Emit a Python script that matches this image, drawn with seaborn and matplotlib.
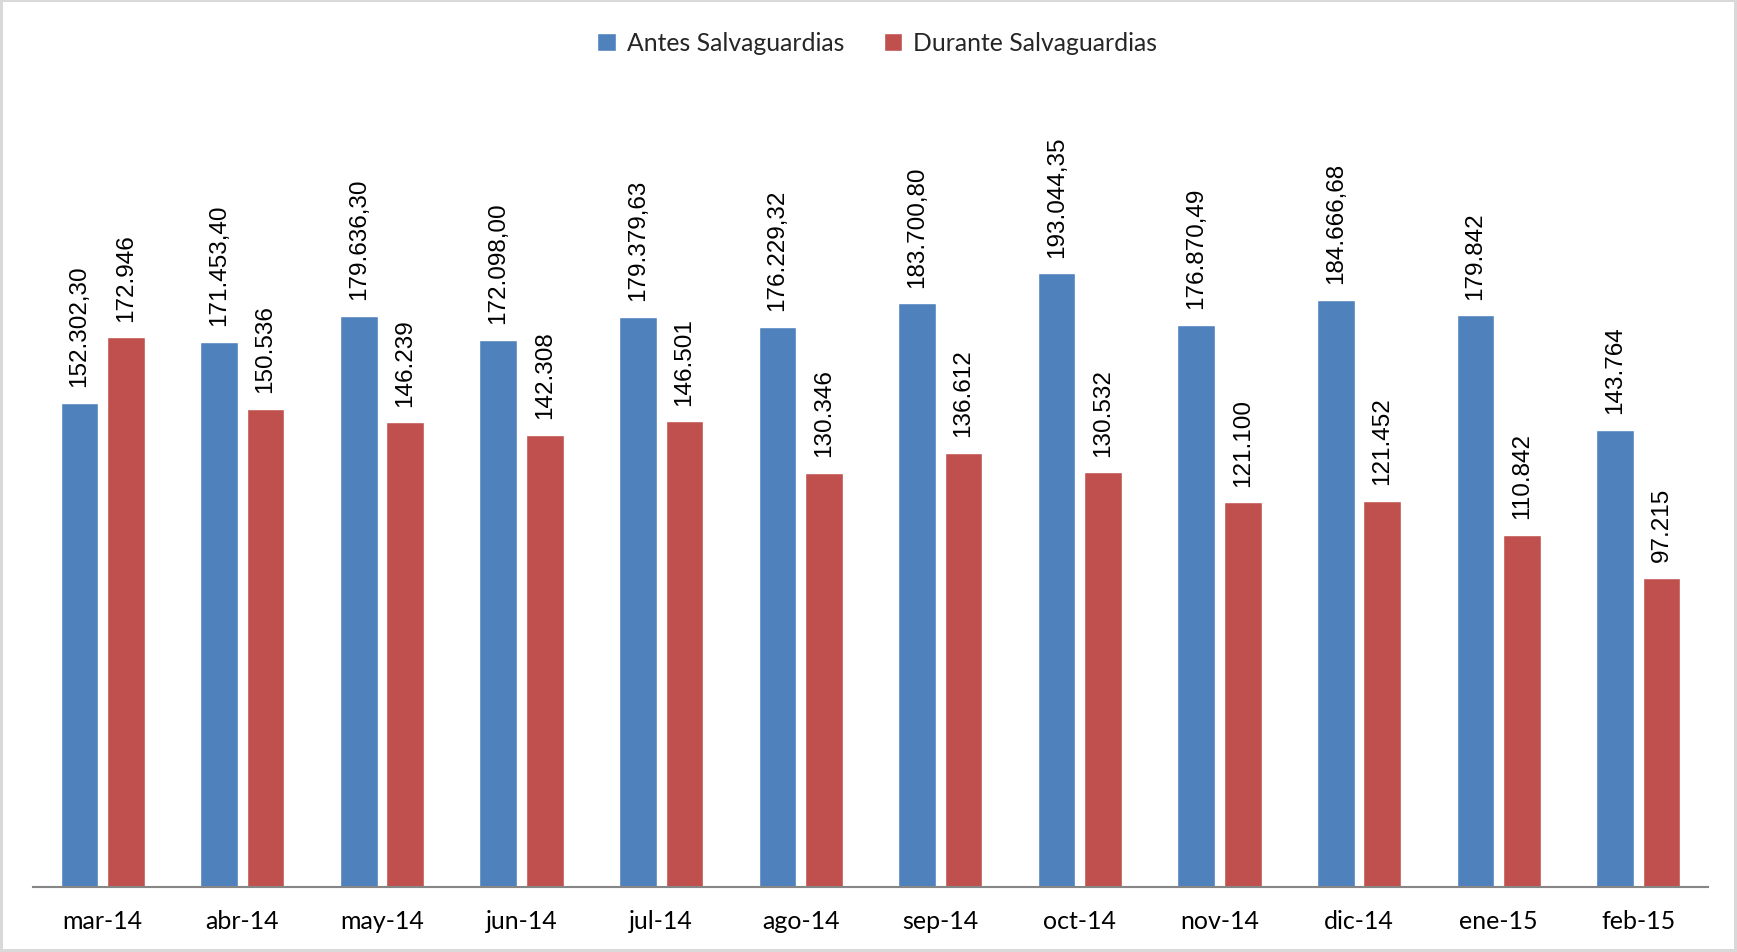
import matplotlib
matplotlib.use("Agg")
import matplotlib.pyplot as plt
import seaborn as sns
import pandas as pd

months = ["mar-14", "abr-14", "may-14", "jun-14", "jul-14", "ago-14",
          "sep-14", "oct-14", "nov-14", "dic-14", "ene-15", "feb-15"]
antes = [152302.30, 171453.40, 179636.30, 172098.00, 179379.63, 176229.32,
         183700.80, 193044.35, 176870.49, 184666.68, 179842, 143764]
antes_labels = ["152.302,30", "171.453,40", "179.636,30", "172.098,00", "179.379,63",
                "176.229,32", "183.700,80", "193.044,35", "176.870,49", "184.666,68",
                "179.842", "143.764"]
durante = [172946, 150536, 146239, 142308, 146501, 130346,
           136612, 130532, 121100, 121452, 110842, 97215]
durante_labels = ["172.946", "150.536", "146.239", "142.308", "146.501", "130.346",
                  "136.612", "130.532", "121.100", "121.452", "110.842", "97.215"]
series = ["Antes Salvaguardias", "Durante Salvaguardias"]

df = pd.DataFrame({
    "mes": months * 2,
    "valor": antes + durante,
    "serie": [series[0]] * len(months) + [series[1]] * len(months),
})

sns.set_theme(style="white")
plt.rcParams["font.family"] = ["Lato", "DejaVu Sans"]

fig = plt.figure(figsize=(17.37, 9.53), dpi=100, facecolor="white",
                 edgecolor="#D9D9D9", linewidth=3)
ax = fig.add_axes([0.019, 0.068, 0.9643, 0.8323])

sns.barplot(data=df, x="mes", y="valor", hue="serie", order=months,
            hue_order=series, palette=["#4F81BD", "#C0504D"],
            width=0.666, gap=0.19, ax=ax, saturation=1, legend=True)

ax.set_ylim(0, 249500)
ax.set_xlim(-0.5, len(months) - 0.5)
ax.set_xlabel("")
ax.set_ylabel("")
ax.set_yticks([])
for s in ["left", "right", "top"]:
    ax.spines[s].set_visible(False)
ax.spines["bottom"].set_color("#868686")
ax.spines["bottom"].set_linewidth(1.5)
ax.tick_params(axis="x", length=0, pad=16, labelsize=18, colors="black")

for cont, labs in zip(ax.containers, [antes_labels, durante_labels]):
    ax.bar_label(cont, labels=labs, rotation=90, padding=12,
                 fontsize=17.5, family=["Liberation Sans", "DejaVu Sans"],
                 color="black")

ax.legend_.remove()
handles, labels = ax.get_legend_handles_labels()
fig.legend(handles, labels, loc="center", bbox_to_anchor=(0.505, 0.954),
           ncol=2, frameon=False, fontsize=17.8, handlelength=0.75,
           handleheight=0.75, handletextpad=0.45, columnspacing=1.6)

fig.savefig("out.png", dpi=100, facecolor="white", edgecolor="#D9D9D9")
